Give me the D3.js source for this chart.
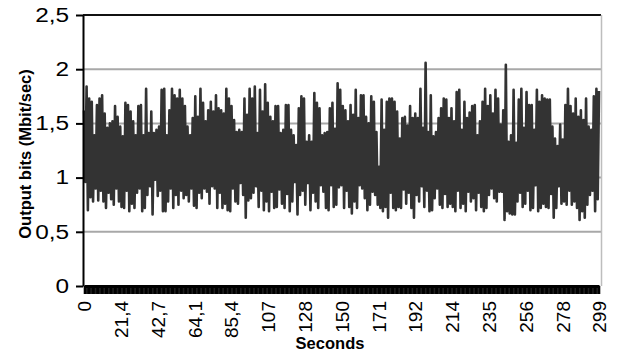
<!DOCTYPE html>
<html>
<head>
<meta charset="utf-8">
<script src="https://cdn.jsdelivr.net/npm/d3@7"></script>
<style>
  html, body { margin: 0; padding: 0; background: #fff; }
  svg { display: block; font-family: "Liberation Sans", Arial, sans-serif; }
</style>
</head>
<body>
<div id="chart"></div>
<script>
// Output bitrate samples (alternating peak / trough)
const outputBits = [
  1.62,0.96, 1.84,0.70, 1.73,0.82, 1.70,0.78, 1.39,0.90, 1.67,0.79, 1.73,0.88, 1.76,0.78, 1.59,0.72, 1.46,0.86,
  1.50,0.80, 1.52,0.75, 1.66,0.90, 1.56,0.78, 1.47,0.73, 1.38,0.72, 1.69,0.88, 1.67,0.69, 1.61,0.76, 1.52,0.72,
  1.39,0.86, 1.66,0.90, 1.67,0.69, 1.39,0.72, 1.82,0.84, 1.41,0.92, 1.61,0.66, 1.41,0.98, 1.44,0.83, 1.47,0.88,
  1.81,0.69, 1.82,0.69, 1.39,0.78, 1.62,0.90, 1.82,0.72, 1.76,0.84, 1.73,0.75, 1.81,0.88, 1.73,0.81, 1.66,0.84,
  1.47,0.78, 1.39,0.90, 1.55,0.74, 1.75,0.72, 1.56,0.86, 1.82,0.81, 1.69,0.90, 1.52,0.87, 1.62,0.76, 1.70,0.92,

  1.61,0.90, 1.76,0.72, 1.64,0.86, 1.62,0.72, 1.59,0.76, 1.82,0.70, 1.73,0.69, 1.66,0.90, 1.53,0.78, 1.42,0.76,
  1.44,0.95, 1.42,0.84, 1.73,0.63, 1.58,0.79, 1.82,0.81, 1.73,0.86, 1.84,0.92, 1.41,0.73, 1.81,0.88, 1.61,0.70,
  1.86,0.78, 1.69,0.69, 1.56,0.87, 1.52,0.72, 1.66,0.73, 1.66,0.89, 1.41,0.76, 1.44,0.72, 1.67,0.85, 1.67,0.69,
  1.44,0.78, 1.39,0.96, 1.30,0.66, 1.64,0.84, 1.75,0.88, 1.73,0.75, 1.33,0.95, 1.39,0.70, 1.33,0.86, 1.78,0.78,
  1.69,0.72, 1.64,0.93, 1.39,0.87, 1.41,0.72, 1.42,0.70, 1.64,0.93, 1.69,0.73, 1.45,0.75, 1.87,0.91, 1.81,0.93,

  1.66,0.72, 1.62,0.88, 1.52,0.73, 1.67,0.67, 1.58,0.78, 1.81,0.72, 1.55,0.93, 1.76,0.90, 1.76,0.81, 1.56,0.70,
  1.50,0.75, 1.75,0.87, 1.70,0.84, 1.42,0.75, 1.10,0.72, 1.72,0.69, 1.44,0.73, 1.70,0.63, 1.73,0.86, 1.73,0.72,
  1.70,0.70, 1.61,0.73, 1.36,0.72, 1.55,0.89, 1.56,0.76, 1.48,0.86, 1.66,0.72, 1.55,0.63, 1.59,0.84, 1.55,0.78,
  1.82,0.92, 1.46,0.73, 2.06,0.88, 1.42,0.69, 1.76,0.70, 1.38,0.81, 1.42,0.90, 1.55,0.75, 1.64,0.72, 1.73,0.85,
  1.72,0.73, 1.55,0.76, 1.64,0.73, 1.52,0.69, 1.79,0.88, 1.81,0.72, 1.44,0.76, 1.70,0.69, 1.55,0.87, 1.60,0.78,

  1.66,0.81, 1.67,0.70, 1.39,0.86, 1.52,0.73, 1.70,0.69, 1.82,0.72, 1.66,0.84, 1.76,0.90, 1.59,0.81, 1.81,0.78,
  1.73,0.87, 1.49,0.87, 1.62,0.61, 2.04,0.69, 1.33,0.67, 1.39,0.66, 1.81,0.66, 1.32,0.78, 1.72,0.86, 1.82,0.73,
  1.46,0.76, 1.79,0.88, 1.67,0.70, 1.67,0.72, 1.44,0.93, 1.81,0.69, 1.70,0.72, 1.76,0.76, 1.73,0.73, 1.72,0.72,
  1.72,0.85, 1.47,0.63, 1.36,0.72, 1.29,0.92, 1.49,0.76, 1.35,0.78, 1.67,0.75, 1.82,0.88, 1.66,0.75, 1.59,0.78,
  1.73,0.72, 1.56,0.61, 1.62,0.69, 1.53,0.63, 1.73,0.75, 1.47,0.84, 1.44,0.88, 1.75,0.69, 1.82,0.80, 1.80
];

// Category labels shown on the x axis (seconds)
const secondLabels = ["0", "21,4", "42,7", "64,1", "85,4", "107", "128", "150",
  "171", "192", "214", "235", "256", "278", "299"];

// Value axis ticks and their labels
const yTicks = [0, 0.5, 1, 1.5, 2, 2.5];
const yLabels = ["0", "0,5", "1", "1,5", "2", "2,5"];

const width = 619, height = 352;
const plot = { left: 83, right: 600, top: 15, bottom: 286 };

const svg = d3.select("#chart").append("svg")
  .attr("width", width)
  .attr("height", height);

const n = outputBits.length;
const x = d3.scaleLinear().domain([0, n - 1]).range([plot.left + 1, plot.right - 1]);
const y = d3.scaleLinear().domain([0, 2.5]).range([plot.bottom, plot.top]);

// Gridlines
svg.append("g")
  .selectAll("line")
  .data(yTicks.filter(d => d > 0 && d < 2.5))
  .join("line")
  .attr("x1", plot.left).attr("x2", plot.right + 1)
  .attr("y1", d => y(d)).attr("y2", d => y(d))
  .attr("stroke", "#a8a8a8")
  .attr("stroke-width", 2);

// top edge and right border of the plot area
svg.append("line")
  .attr("x1", plot.left).attr("x2", plot.right + 1)
  .attr("y1", y(2.5)).attr("y2", y(2.5))
  .attr("stroke", "#111").attr("stroke-width", 2);
svg.append("line")
  .attr("x1", plot.right + 1.5).attr("x2", plot.right + 1.5)
  .attr("y1", y(2.5)).attr("y2", plot.bottom)
  .attr("stroke", "#bdbdbd").attr("stroke-width", 1.5);

// The series
const line = d3.line()
  .x((d, i) => x(i))
  .y(d => y(d));

svg.append("path")
  .datum(outputBits)
  .attr("fill", "none")
  .attr("stroke", "#333")
  .attr("stroke-width", 2.6)
  .attr("stroke-linejoin", "round")
  .attr("d", line);

// Category axis: a tick per sample makes the solid black band
const xAxis = svg.append("g")
  .attr("transform", `translate(0,${plot.bottom})`)
  .call(d3.axisBottom(x).tickValues(d3.range(n)).tickSize(8).tickSizeOuter(0).tickFormat(""));
xAxis.select(".domain")
  .attr("stroke", "#000").attr("stroke-width", 3);
xAxis.selectAll(".tick line")
  .attr("stroke", "#000").attr("stroke-width", 1.6);

// Rotated second labels
const labelAxis = svg.append("g")
  .attr("transform", `translate(0,${plot.bottom})`)
  .call(d3.axisBottom(x)
    .tickValues(secondLabels.map((d, i) => i * (n - 1) / (secondLabels.length - 1)))
    .tickSize(0)
    .tickFormat((d, i) => secondLabels[i]));
labelAxis.select(".domain").remove();
labelAxis.selectAll(".tick text")
  .attr("transform", "rotate(-90)")
  .attr("x", -15)
  .attr("y", 0)
  .attr("dy", "0.36em")
  .attr("text-anchor", "end")
  .attr("fill", "#000")
  .style("font-size", "19px")
  .style("font-family", "'Liberation Sans', Arial, sans-serif");

// Value axis
const yAxis = svg.append("g")
  .attr("transform", `translate(${plot.left},0)`)
  .call(d3.axisLeft(y)
    .tickValues(yTicks)
    .tickSize(7)
    .tickSizeOuter(0)
    .tickPadding(7)
    .tickFormat((d, i) => yLabels[i]));
yAxis.select(".domain")
  .attr("stroke", "#000").attr("stroke-width", 2);
yAxis.selectAll(".tick line")
  .attr("stroke", "#000").attr("stroke-width", 2);
// the value labels are drawn wider than they are tall in the reference
yAxis.selectAll(".tick text")
  .attr("x", -14 / 1.25)
  .attr("transform", "scale(1.25,1)")
  .attr("fill", "#000")
  .style("font-size", "19.5px")
  .style("font-family", "'Liberation Sans', Arial, sans-serif");

// Axis titles
svg.append("text")
  .attr("transform", "translate(31,154) rotate(-90)")
  .attr("text-anchor", "middle")
  .style("font-size", "16.5px")
  .style("font-weight", "bold")
  .text("Output bits (Mbit/sec)");

svg.append("text")
  .attr("x", 330)
  .attr("y", 349)
  .attr("text-anchor", "middle")
  .style("font-size", "16.5px")
  .style("font-weight", "bold")
  .text("Seconds");
</script>
</body>
</html>
